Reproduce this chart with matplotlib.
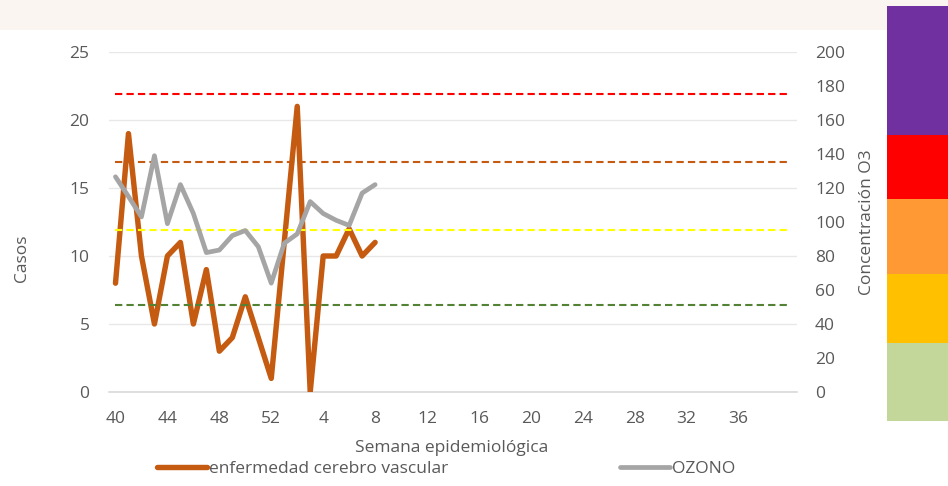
import numpy as np
import matplotlib
matplotlib.use("Agg")
import matplotlib.pyplot as plt
from matplotlib.patches import Rectangle
from matplotlib.lines import Line2D

plt.rcParams['font.family'] = ['Open Sans', 'DejaVu Sans']

# ---- data ----
weeks = list(range(40, 53)) + list(range(1, 41))
casos = [8, 19, 10, 5, 10, 11, 5, 9, 3, 4, 7, 4, 1, 11, 21, 0, 10, 10, 12, 10, 11]
ozono = [126.6, 115, 103, 139, 99, 122, 105, 82, 83.5, 92, 95, 85.5, 64, 87.5, 93,
         112, 105, 101, 98, 117, 122]
umbrales = [51, 95, 135, 175]
umbral_colores = ['#548235', '#FFFF00', '#C55A11', '#FF0000']
tick_every = 4

n = len(weeks)
x = np.arange(n)
casos_full = np.array(casos + [np.nan] * (n - len(casos)), dtype=float)
ozono_full = np.array(ozono + [np.nan] * (n - len(ozono)), dtype=float)

W, H = 948, 486
fig = plt.figure(figsize=(W / 100, H / 100), dpi=100)
fig.patch.set_facecolor('white')

# faint watermark band at top
fig.add_artist(Rectangle((0, 1 - 30 / H), 1, 30 / H, transform=fig.transFigure,
                         facecolor='#fbf5f1', edgecolor='none', zorder=0))

# right colour scale blocks
blocks = [(6, 135, '#7030A0'), (135, 199, '#FF0000'), (199, 274, '#FF9933'),
          (274, 343, '#FFC000'), (343, 421, '#C4D79B')]
for y0, y1, c in blocks:
    fig.add_artist(Rectangle((887 / W, 1 - y1 / H), (W - 887) / W, (y1 - y0) / H,
                             transform=fig.transFigure, facecolor=c,
                             edgecolor='none', zorder=1))

left, right, top, bottom = 109, 797, 52, 392
ax = fig.add_axes([left / W, 1 - bottom / H, (right - left) / W, (bottom - top) / H])
ax.set_facecolor('none')
ax2 = ax.twinx()

ax.plot(x, casos_full, color='#C55A11', lw=3.9, solid_joinstyle='round',
        solid_capstyle='round', zorder=3)
for v, c in zip(umbrales, umbral_colores):
    ax2.plot(x, [v] * n, color=c, lw=1.5, dashes=(3.5, 2), zorder=2)
ax2.plot(x, ozono_full, color='#A5A5A5', lw=3.4, solid_joinstyle='round',
         solid_capstyle='round', zorder=3)

ax.set_xlim(-0.5, n - 0.5)
ax.set_ylim(0, 25)
ax2.set_ylim(0, 200)
ax.set_yticks(range(0, 26, 5))
ax2.set_yticks(range(0, 201, 20))
ax.set_xticks(x[::tick_every][:13])
ax.set_xticklabels([str(w) for w in weeks[::tick_every][:13]])

ax.grid(axis='y', color='#e8e8e8', lw=1)
ax.set_axisbelow(True)
for a in (ax, ax2):
    for s in a.spines.values():
        s.set_visible(False)
ax.spines['bottom'].set_visible(True)
ax.spines['bottom'].set_color('#d9d9d9')
ax.spines['bottom'].set_linewidth(1.2)

fs = 12.5
lab_col = '#595959'
ax.tick_params(axis='y', length=0, pad=14, labelsize=fs, labelcolor=lab_col)
ax2.tick_params(axis='y', length=0, pad=13, labelsize=fs, labelcolor=lab_col)
ax.tick_params(axis='x', length=0, pad=14, labelsize=fs, labelcolor=lab_col)

fig.text(22 / W, 1 - 258 / H, 'Casos', rotation=90, ha='center', va='center',
         fontsize=fs, color=lab_col)
fig.text(867 / W, 1 - 222 / H, 'Concentración O3', rotation=90, ha='center',
         va='center', fontsize=fs, color=lab_col)
fig.text(452 / W, 1 - 448 / H, 'Semana epidemiológica', ha='center', va='center',
         fontsize=fs, color=lab_col)

handles = [Line2D([], [], color='#C55A11', lw=3.9, solid_capstyle='round'),
           Line2D([], [], color='#A5A5A5', lw=3.4, solid_capstyle='round')]
fig.legend(handles, ['enfermedad cerebro vascular', 'OZONO'], loc='center',
           bbox_to_anchor=(446 / W, 1 - 469 / H), ncol=2, frameon=False,
           fontsize=fs, handlelength=2.9, handletextpad=0.1, columnspacing=9.9,
           labelcolor=lab_col, borderpad=0)

fig.savefig('out.png', dpi=100, facecolor='white')
